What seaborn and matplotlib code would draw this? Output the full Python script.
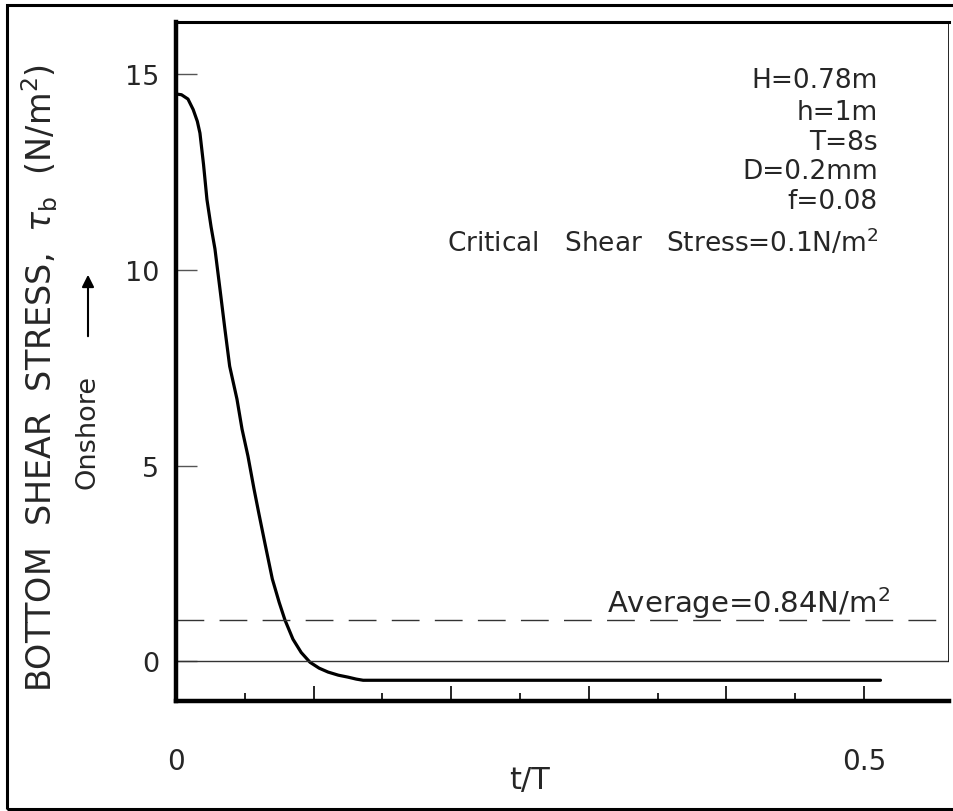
import matplotlib
matplotlib.use("Agg")
import matplotlib.pyplot as plt
import seaborn as sns
import pandas as pd
from matplotlib.patches import Rectangle
from matplotlib.ticker import FixedLocator, FixedFormatter

# ---- data ----
t_over_T = [0.0, 0.004, 0.0087, 0.0125, 0.0155, 0.0174, 0.020, 0.0225, 0.0255,
            0.0283, 0.032, 0.0355, 0.039, 0.0443, 0.048, 0.0523, 0.0567,
            0.0603, 0.0647, 0.070, 0.075, 0.0792, 0.085, 0.091, 0.0974,
            0.104, 0.1105, 0.118, 0.125, 0.131, 0.136, 0.512]
shear = [14.5, 14.48, 14.37, 14.1, 13.8, 13.5, 12.7, 11.8, 11.1,
         10.54, 9.5, 8.5, 7.54, 6.7, 5.93, 5.24, 4.40,
         3.76, 3.0, 2.1, 1.5, 1.05, 0.56, 0.22, -0.03,
         -0.18, -0.28, -0.36, -0.41, -0.46, -0.49, -0.49]
average_level = 1.05
y_ticks = [0, 5, 10, 15]
y_ticklabels = ["0", "5", "10", "15"]
x_major = [0.0, 0.1, 0.2, 0.3, 0.4, 0.5]
x_major_labels = ["0", "", "", "", "", "0.5"]
x_minor = [0.05, 0.15, 0.25, 0.35, 0.45]
params = ["H=0.78m", "h=1m", "T=8s", "D=0.2mm", "f=0.08",
          "Critical   Shear   Stress=0.1N/m$^2$"]
param_y_px = [81, 113, 143, 172, 202, 243]
avg_label = "Average=0.84N/m$^2$"

sns.set_theme(style="white")
plt.rcParams["font.family"] = ["DejaVu Sans"]
plt.rcParams["mathtext.fontset"] = "dejavusans"

W, H = 954, 812
fig = plt.figure(figsize=(W / 100, H / 100), dpi=100)
fig.patch.set_facecolor("white")

# outer frame (right side falls outside the picture, as in the reference)
fig.patches.append(Rectangle((7 / W, 1 - 810 / H), (975 - 7) / W, (810 - 6) / H,
                             transform=fig.transFigure, fill=False,
                             lw=2.2, edgecolor="black"))

ax = fig.add_axes([176 / W, 110 / H, (949 - 176) / W, (789 - 110) / H])
ax.set_facecolor("white")

df = pd.DataFrame({"t": t_over_T, "tau": shear})
sns.lineplot(data=df, x="t", y="tau", ax=ax, color="black", lw=2.3, sort=False)

ax.axhline(0, color="#333333", lw=1.0)
ax.axhline(average_level, color="#333333", lw=1.0, dashes=(20, 11))

ax.set_xlim(0, 0.5618)
ax.set_ylim(-1.02, 16.34)

# spines
for s in ["left", "bottom"]:
    ax.spines[s].set_linewidth(3.2)
    ax.spines[s].set_color("black")
ax.spines["top"].set_linewidth(2.2)
ax.spines["top"].set_color("black")
ax.spines["right"].set_visible(False)
ymin, ymax = ax.get_ylim()
ax.axvline(ax.get_xlim()[1], ymin=(0 - ymin) / (ymax - ymin), ymax=1,
           color="black", lw=1.2)

ax.yaxis.set_major_locator(FixedLocator(y_ticks))
ax.yaxis.set_major_formatter(FixedFormatter(y_ticklabels))
ax.xaxis.set_major_locator(FixedLocator(x_major))
ax.xaxis.set_major_formatter(FixedFormatter(x_major_labels))
ax.xaxis.set_minor_locator(FixedLocator(x_minor))

ax.tick_params(axis="y", which="major", direction="in", length=15, width=1.0,
               color="#555555", labelsize=19.5, pad=12, left=True, right=False)
ax.tick_params(axis="x", which="major", direction="in", length=11, width=1.2,
               color="black", labelsize=20, pad=33, bottom=True, top=False)
ax.tick_params(axis="x", which="minor", direction="in", length=6, width=1.2,
               color="black", bottom=True, top=False)
ax.set_xlabel("")
ax.set_ylabel("")

# parameter block
for txt, ypx in zip(params, param_y_px):
    fig.text(878 / W, 1 - ypx / H, txt, ha="right", va="center", fontsize=19)

fig.text(890 / W, 1 - 603 / H, avg_label, ha="right", va="center", fontsize=21)

# axis labels
fig.text(530 / W, 1 - 781 / H, "t/T", ha="center", va="center", fontsize=22)
fig.text(40 / W, 1 - 378 / H,
         r"BOTTOM  SHEAR  STRESS,  $\tau_{\rm b}$  (N/m$^2$)",
         rotation=90, ha="center", va="center", fontsize=24)
fig.text(88 / W, 1 - 432 / H, "Onshore", rotation=90, ha="center",
         va="center", fontsize=19.5)
ax.annotate("", xy=(88 / W, 1 - 273 / H), xytext=(88 / W, 1 - 340 / H),
            xycoords="figure fraction", textcoords="figure fraction",
            arrowprops=dict(arrowstyle="-|>", lw=1.5, color="black",
                            mutation_scale=18))

fig.savefig("out.png", dpi=100, facecolor="white")
